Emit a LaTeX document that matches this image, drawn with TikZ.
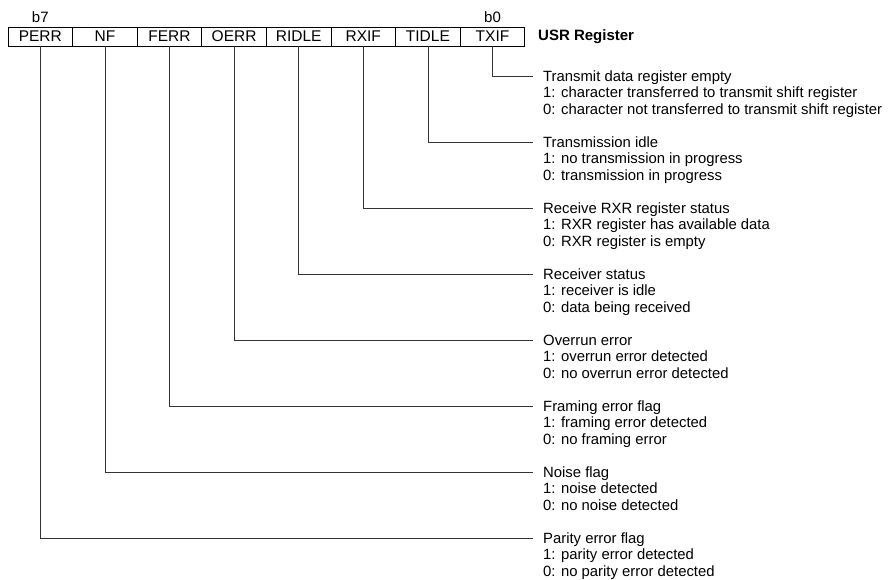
\documentclass[tikz,border=0pt]{standalone}
\usepackage{fontspec}
\setmainfont{Liberation Sans}
\usetikzlibrary{positioning}

\begin{document}
\begin{tikzpicture}[x=1pt,y=-1pt,
    bitcell/.style={draw,line width=0.8pt,minimum width=64.6pt,minimum height=19pt,
        inner sep=0pt,outer sep=0pt,font=\fontsize{15.5}{17}\selectfont},
    bitnum/.style={inner sep=0pt,font=\fontsize{15}{17}\selectfont},
    desc/.style={anchor=north west,inner sep=0pt,align=left,
        font=\fontsize{14.85}{16.5}\selectfont},
    wire/.style={draw=black!80,line width=0.8pt}
    ]
  \useasboundingbox (0,0) rectangle (888,579);

  % USR register, b7 ... b0
  \node[bitcell,anchor=north west] (perr) at (8,27) {PERR};
  \node[bitcell,right=0pt of perr] (nf) {NF};
  \node[bitcell,right=0pt of nf] (ferr) {FERR};
  \node[bitcell,right=0pt of ferr] (oerr) {OERR};
  \node[bitcell,right=0pt of oerr] (ridle) {RIDLE};
  \node[bitcell,right=0pt of ridle] (rxif) {RXIF};
  \node[bitcell,right=0pt of rxif] (tidle) {TIDLE};
  \node[bitcell,right=0pt of tidle] (txif) {TXIF};
  \node[anchor=west,inner sep=0pt,font=\bfseries\fontsize{15}{17}\selectfont]
      (usr) at (538,36.5) {USR Register};

  % bit numbers
  \node[bitnum,above=4.5pt of perr] (bseven) {b7};
  \node[bitnum,above=4.5pt of txif] (bzero) {b0};

  % TXIF
  \coordinate (etxif) at (533,76);
  \node[desc,below right=-5.5pt and 10pt of etxif] (dtxif)
      {Transmit data register empty\\
       1: character transferred to transmit shift register\\
       0: character not transferred to transmit shift register};
  \draw[wire] (txif) |- (etxif);

  % TIDLE
  \coordinate (etidle) at (533,142);
  \node[desc,below right=-5.5pt and 10pt of etidle] (dtidle)
      {Transmission idle\\
       1: no transmission in progress\\
       0: transmission in progress};
  \draw[wire] (tidle) |- (etidle);

  % RXIF
  \coordinate (erxif) at (533,208);
  \node[desc,below right=-5.5pt and 10pt of erxif] (drxif)
      {Receive RXR register status\\
       1: RXR register has available data\\
       0: RXR register is empty};
  \draw[wire] (rxif) |- (erxif);

  % RIDLE
  \coordinate (eridle) at (533,274);
  \node[desc,below right=-5.5pt and 10pt of eridle] (dridle)
      {Receiver status\\
       1: receiver is idle\\
       0: data being received};
  \draw[wire] (ridle) |- (eridle);

  % OERR
  \coordinate (eoerr) at (533,340);
  \node[desc,below right=-5.5pt and 10pt of eoerr] (doerr)
      {Overrun error\\
       1: overrun error detected\\
       0: no overrun error detected};
  \draw[wire] (oerr) |- (eoerr);

  % FERR
  \coordinate (eferr) at (533,406);
  \node[desc,below right=-5.5pt and 10pt of eferr] (dferr)
      {Framing error flag\\
       1: framing error detected\\
       0: no framing error};
  \draw[wire] (ferr) |- (eferr);

  % NF
  \coordinate (enf) at (533,472);
  \node[desc,below right=-5.5pt and 10pt of enf] (dnf)
      {Noise flag\\
       1: noise detected\\
       0: no noise detected};
  \draw[wire] (nf) |- (enf);

  % PERR
  \coordinate (eperr) at (533,538);
  \node[desc,below right=-5.5pt and 10pt of eperr] (dperr)
      {Parity error flag\\
       1: parity error detected\\
       0: no parity error detected};
  \draw[wire] (perr) |- (eperr);

\end{tikzpicture}
\end{document}
